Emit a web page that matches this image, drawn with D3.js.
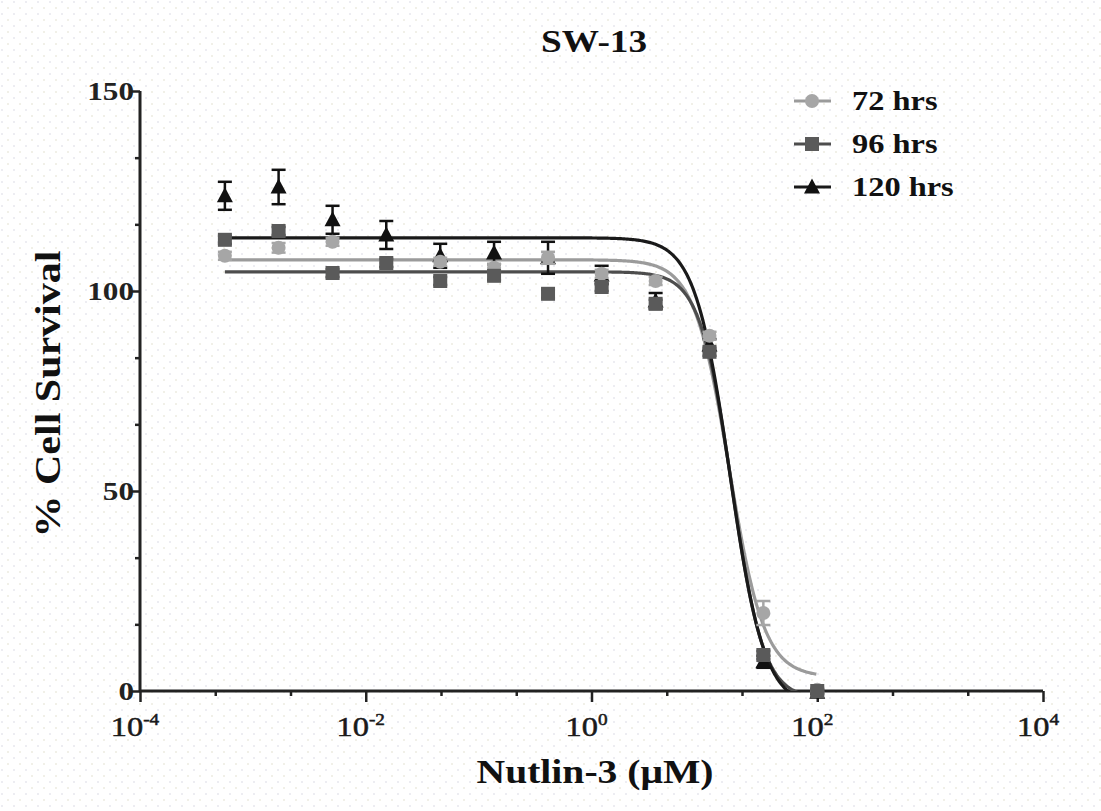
<!DOCTYPE html>
<html><head><meta charset="utf-8">
<script src="https://cdn.jsdelivr.net/npm/d3@7"></script>
<style>body{margin:0;background:#fff}svg{display:block}</style>
</head><body><svg id="c" width="1101" height="811"></svg>
<script>
// Concentrations (µM), 1:3 dilution series
const conc = [0.000565, 0.00169, 0.00508, 0.0152, 0.0457, 0.137, 0.412, 1.23, 3.70, 11.1, 33.3, 100];
const series = ["72 hrs", "96 hrs", "120 hrs"];
const survival72  = [108.8, 110.8, 112.3, 107.0, 107.3, 105.8, 108.3, 104.3, 102.5, 88.8, 19.5, 0.3];
const survival96  = [112.8, 115.0, 104.5, 107.0, 102.5, 103.8, 99.3, 101.0, 96.8, 84.8, 9.0, 0.0];
const survival120 = [123.8, 126.0, 117.8, 114.0, 108.8, 109.5, 108.3, 104.0, 97.5, 86.5, 7.3, -0.3];
const err72  = [1.0, 1.2, 1.0, 1.0, 1.0, 1.0, 1.5, 1.0, 1.0, 1.0, 3.0, 0.5];
const err96  = [1.0, 1.0, 1.0, 1.0, 1.0, 1.0, 1.0, 1.0, 1.0, 1.0, 1.0, 0.5];
const err120 = [3.5, 4.3, 3.5, 3.5, 3.0, 2.8, 4.0, 2.3, 2.0, 1.5, 1.5, 0.5];
// Four-parameter logistic fit parameters: top, bottom, logIC50, hill
const fitTop    = [107.8, 104.8, 113.3];
const fitBottom = [3.5, -2.0, -4.0];
const fitLogIC50 = [1.22, 1.242, 1.224];
const fitHill   = [2.8, 3.08, 2.82];
const yTicks = [0, 50, 100, 150];
const xTickExps = [-4, -2, 0, 2, 4];

const svg = d3.select("#c");
const FONT = "'Liberation Serif','Times New Roman',serif";
const SX = 1.2; // horizontal stretch of the reference's text

// faint dotted background
const defs = svg.append("defs");
const pat = defs.append("pattern").attr("id","dots").attr("width",12).attr("height",12).attr("patternUnits","userSpaceOnUse");
pat.append("rect").attr("x",1).attr("y",1).attr("width",2).attr("height",2).attr("fill","#ededf2");
pat.append("rect").attr("x",7).attr("y",7).attr("width",2).attr("height",2).attr("fill","#f1f0e8");
svg.append("rect").attr("width",1101).attr("height",811).attr("fill","url(#dots)");

const x = d3.scaleLog().domain([1e-4, 1e4]).range([140, 1043]);
const y = d3.scaleLinear().domain([0, 150]).range([691, 91]);

const colors = ["#a6a6a6", "#5a5a5a", "#111111"];
const lineColors = ["#9b9b9b", "#4d4d4d", "#1a1a1a"];
const vals = [survival72, survival96, survival120];
const errs = [err72, err96, err120];

function stext(parent, tx, ty, anchor, size, weight, str, rot) {
  return parent.append("text")
    .attr("transform", `translate(${tx},${ty})${rot ? " rotate(-90)" : ""} scale(${SX},1)`)
    .attr("text-anchor", anchor).attr("font-family", FONT).attr("font-weight", weight)
    .attr("font-size", size).attr("fill", "#111").text(str);
}

// axes
const yAxis = d3.axisLeft(y).tickValues(d3.range(0, 151, 50/3)).tickSize(9).tickFormat("");
const gy = svg.append("g").attr("transform","translate(140,0)").call(yAxis);
gy.selectAll(".tick line").attr("x2", (d)=> Math.abs(d % 50) < 0.01 || Math.abs(d%50-50)<0.01 ? -9 : -5);
const xMinor = [];
for (let e=-4; e<=4.001; e+=2/3) xMinor.push(Math.pow(10, e));
const xAxis = d3.axisBottom(x).tickValues(xMinor).tickSize(9).tickFormat("");
const gx = svg.append("g").attr("transform","translate(0,691)").call(xAxis);
gx.selectAll(".tick line").attr("y2", (d)=> { const l=Math.log10(d); return Math.abs(l-Math.round(l))<0.01 && Math.round(l)%2===0 ? 11 : 5; });
[gx, gy].forEach(g=>{ g.select(".domain").attr("stroke","#222").attr("stroke-width",3);
  g.selectAll(".tick line").attr("stroke","#222").attr("stroke-width",2.5); });
gx.select(".domain").attr("d","M140,0H1043");
gy.select(".domain").attr("d","M0,691V91");

// y tick labels
const yl = svg.append("g");
yTicks.forEach(d => stext(yl, 134, y(d)+9, "end", 26, "bold", d).attr("fill","#222"));
// x tick labels
const xlg = svg.append("g");
xTickExps.forEach(d => {
  const t = stext(xlg, x(Math.pow(10,d))-5, 736, "middle", 27, "normal", "").attr("fill","#1a1a1a")
    .attr("stroke","#1a1a1a").attr("stroke-width",0.5);
  t.append("tspan").text("10");
  t.append("tspan").attr("dy",-11).attr("font-size",16).text(d);
});

// titles
stext(svg, 594, 52, "middle", 31, "bold", "SW-13");
stext(svg, 595, 783, "middle", 33, "bold", "Nutlin-3 (μM)");
stext(svg, 60, 394, "middle", 35, "bold", "% Cell Survival", true);

// clip
defs.append("clipPath").attr("id","plot").append("rect").attr("x",140).attr("y",60).attr("width",910).attr("height",631);

// fitted curves
const logs = d3.range(Math.log10(conc[0]), Math.log10(conc[conc.length-1])+0.0001, 0.01);
const line = d3.line().x(d=>x(Math.pow(10,d[0]))).y(d=>y(d[1]));
series.forEach((s,i)=>{
  const pts = logs.map(l=>[l, fitBottom[i] + (fitTop[i]-fitBottom[i])/(1+Math.pow(10,(l-fitLogIC50[i])*fitHill[i]))]);
  svg.append("path").attr("clip-path","url(#plot)").attr("d", line(pts))
    .attr("fill","none").attr("stroke",lineColors[i]).attr("stroke-width",3.2);
});

// markers
function marker(g, i, cx, cy) {
  if (i===0) g.append("circle").attr("cx",cx).attr("cy",cy).attr("r",7).attr("fill",colors[0]);
  else if (i===1) g.append("rect").attr("x",cx-7).attr("y",cy-7).attr("width",14).attr("height",14).attr("fill",colors[1]);
  else g.append("path").attr("d",`M${cx},${cy-8.5}L${cx+8},${cy+6.5}L${cx-8},${cy+6.5}Z`).attr("fill",colors[2]);
}
[2,0,1].forEach(i=>{
  const g = svg.append("g");
  conc.forEach((c,j)=>{
    const cx = x(c), cy = y(vals[i][j]), e = errs[i][j];
    const t = y(vals[i][j]+e), b = y(vals[i][j]-e);
    g.append("line").attr("x1",cx).attr("x2",cx).attr("y1",t).attr("y2",b).attr("stroke",colors[i]).attr("stroke-width",2.5);
    g.append("line").attr("x1",cx-7).attr("x2",cx+7).attr("y1",t).attr("y2",t).attr("stroke",colors[i]).attr("stroke-width",2.5);
    g.append("line").attr("x1",cx-7).attr("x2",cx+7).attr("y1",b).attr("y2",b).attr("stroke",colors[i]).attr("stroke-width",2.5);
    marker(g, i, cx, cy);
  });
});

// legend
series.forEach((s,i)=>{
  const ly = 101 + i*43;
  svg.append("line").attr("x1",794).attr("x2",831).attr("y1",ly).attr("y2",ly).attr("stroke",lineColors[i]).attr("stroke-width",3.2);
  marker(svg, i, 812, ly);
  stext(svg, 852, ly+9, "start", 27, "bold", s);
});
</script></body></html>
